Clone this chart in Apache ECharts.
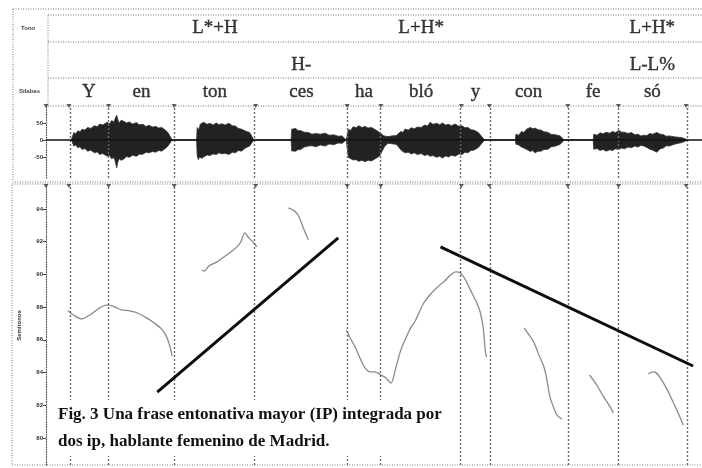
<!DOCTYPE html>
<html><head><meta charset="utf-8">
<script src="https://cdn.jsdelivr.net/npm/echarts@6/dist/echarts.min.js"></script>
<style>html,body{margin:0;padding:0;background:#fff}#c{width:702px;height:468px}</style>
</head><body><div id="c"></div>
<script>
// ---------- data (time in seconds) ----------
const boundaries = [0.077, 0.21, 0.43, 0.703, 1.01, 1.123, 1.393, 1.487, 1.75, 1.92, 2.147];
const syllables = ['Y', 'en', 'ton', 'ces', 'ha', 'bló', 'y', 'con', 'fe', 'só'];
const toneLabels = ['L*+H', 'L+H*', 'L+H*'];
const toneSyllable = [2, 5, 9];
const phraseLabels = ['H-', 'L-L%'];
const phraseSyllable = [3, 9];
const ampTicks = [50, 0, -50];
const semitoneTicks = [80, 82, 84, 86, 88, 90, 92, 94];

const waveUpper = [
  [0.085,0],[0.093,21.7],[0.1,18],[0.107,27],[0.114,24],[0.121,31.5],[0.13,29],[0.14,37],[0.15,34],[0.163,42],[0.172,39],[0.18,47],[0.19,44],[0.205,52],[0.213,47],[0.22,57],[0.228,53],[0.232,63],[0.237,73],[0.241,60],[0.245,50],[0.252,58],[0.261,55],[0.27,50],[0.28,53],[0.29,47],[0.303,51],[0.313,45],[0.325,46],[0.335,40],[0.346,43],[0.357,38],[0.368,40],[0.378,35],[0.388,37],[0.4,29],[0.409,22],[0.423,0],
  [0.505,0],[0.507,36.4],[0.512,30],[0.518,47],[0.524,43],[0.529,52],[0.54,46],[0.55,49],[0.56,44],[0.571,50],[0.58,45],[0.59,48],[0.6,44],[0.613,49],[0.625,42],[0.635,41],[0.645,34],[0.655,32],[0.67,26],[0.683,22],[0.697,0],
  [0.822,0],[0.824,31.5],[0.83,28],[0.838,34],[0.845,27],[0.852,28],[0.866,23],[0.88,22],[0.892,17],[0.905,19],[0.92,17],[0.936,20],[0.95,14],[0.965,15],[0.98,11],[0.993,12],[1.007,0],
  [1.012,0],[1.014,31.5],[1.022,28],[1.03,39],[1.04,36],[1.049,42],[1.06,37],[1.07,40],[1.08,35],[1.091,37],[1.105,30],[1.119,21.7],[1.133,12],[1.147,9.9],[1.16,12],[1.175,13],[1.19,25],[1.197,22],[1.204,32],[1.215,29],[1.225,36],[1.235,33],[1.246,38],[1.258,37],[1.27,44],[1.28,41],[1.288,52],[1.298,46],[1.31,49],[1.32,45],[1.33,50],[1.34,44],[1.35,46],[1.36,42],[1.372,47],[1.385,40],[1.395,42],[1.405,36],[1.415,37],[1.425,30],[1.435,29],[1.45,22],[1.471,0],
  [1.574,0],[1.576,16.7],[1.585,14],[1.595,25],[1.603,22],[1.612,32],[1.625,37],[1.632,33],[1.64,35],[1.65,30],[1.66,29],[1.67,24],[1.682,23],[1.695,16],[1.705,16],[1.724,12],[1.738,0],
  [1.835,0],[1.837,16.7],[1.848,14],[1.858,21],[1.868,18],[1.879,23],[1.89,20],[1.9,25],[1.91,22],[1.921,28],[1.93,23],[1.94,23],[1.952,19],[1.963,22],[1.975,15],[1.985,17],[1.995,12],[2.005,14],[2.015,13],[2.025,19],[2.035,17],[2.048,22],[2.06,17],[2.07,16],[2.08,11],[2.09,12],[2.11,9],[2.132,6.9],[2.153,0]
];
const waveLower = [
  [0.085,0],[0.093,-17.6],[0.1,-15],[0.107,-23],[0.114,-20],[0.121,-28],[0.13,-25],[0.14,-33],[0.15,-30],[0.163,-38],[0.172,-35],[0.18,-43],[0.19,-40],[0.205,-48],[0.213,-45],[0.22,-55],[0.228,-52],[0.232,-63],[0.237,-82],[0.241,-65],[0.245,-55],[0.252,-60],[0.261,-56],[0.27,-49],[0.28,-51],[0.29,-45],[0.303,-48],[0.313,-42],[0.325,-42],[0.335,-36],[0.346,-38],[0.357,-34],[0.368,-36],[0.378,-31],[0.388,-33],[0.4,-25],[0.409,-18],[0.423,0],
  [0.505,0],[0.507,-47],[0.511,-58],[0.515,-50],[0.522,-54],[0.529,-50],[0.54,-44],[0.55,-46],[0.56,-41],[0.571,-43],[0.58,-38],[0.59,-41],[0.6,-39],[0.613,-43],[0.625,-36],[0.635,-38],[0.645,-31],[0.655,-33],[0.67,-23],[0.683,-18],[0.697,0],
  [0.822,0],[0.824,-32.3],[0.83,-36],[0.838,-33],[0.845,-28],[0.852,-29],[0.866,-21],[0.88,-18],[0.892,-17],[0.905,-20],[0.92,-15],[0.936,-18],[0.95,-12],[0.965,-14],[0.98,-9],[0.993,-10],[1.007,0],
  [1.012,0],[1.014,-51.9],[1.022,-55],[1.03,-59],[1.04,-58],[1.049,-63],[1.06,-60],[1.07,-64],[1.08,-60],[1.091,-62],[1.105,-55],[1.119,-47],[1.135,-20],[1.147,-9.7],[1.16,-11],[1.175,-13],[1.19,-29],[1.197,-34],[1.204,-38],[1.215,-36],[1.225,-41],[1.235,-38],[1.246,-43],[1.258,-40],[1.27,-46],[1.28,-43],[1.288,-48],[1.298,-46],[1.31,-51],[1.32,-48],[1.33,-53],[1.34,-47],[1.35,-50],[1.36,-45],[1.372,-48],[1.385,-41],[1.395,-43],[1.405,-36],[1.415,-38],[1.425,-31],[1.435,-30],[1.45,-22],[1.471,0],
  [1.574,0],[1.576,-12.6],[1.585,-15],[1.595,-21],[1.603,-24],[1.612,-28],[1.625,-34],[1.632,-31],[1.64,-38],[1.65,-33],[1.66,-33],[1.67,-28],[1.682,-28],[1.695,-20],[1.705,-19],[1.724,-13],[1.738,0],
  [1.835,0],[1.837,-27.4],[1.848,-25],[1.858,-31],[1.868,-28],[1.879,-33],[1.89,-29],[1.9,-31],[1.91,-26],[1.921,-28],[1.93,-24],[1.94,-26],[1.952,-21],[1.963,-23],[1.975,-18],[1.985,-21],[1.995,-16],[2.005,-18],[2.015,-22],[2.025,-27],[2.035,-30],[2.048,-36],[2.06,-26],[2.07,-24],[2.08,-17],[2.09,-18],[2.11,-12],[2.132,-7.8],[2.153,0]
];

const f0Segments = [
  [[0.073,87.77],[0.097,87.46],[0.12,87.28],[0.147,87.52],[0.18,87.95],[0.207,88.13],[0.23,88.01],[0.253,87.83],[0.28,87.77],[0.307,87.64],[0.337,87.34],[0.363,87.03],[0.387,86.67],[0.403,86.24],[0.413,85.75],[0.42,85.26],[0.423,85.01]],
  [[0.523,90.27],[0.53,90.2],[0.547,90.52],[0.573,90.76],[0.597,91.07],[0.62,91.37],[0.64,91.68],[0.653,91.98],[0.667,92.53],[0.68,92.23],[0.697,91.92],[0.707,91.68]],
  [[0.813,94.06],[0.833,93.88],[0.847,93.57],[0.863,92.84],[0.88,92.11]],
  [[1.007,86.6],[1.02,86.11],[1.037,85.56],[1.053,84.89],[1.07,84.28],[1.087,84.04],[1.103,84.04],[1.123,83.85],[1.14,83.67],[1.157,83.36],[1.173,84.28],[1.19,85.38],[1.207,86.11],[1.223,86.73],[1.24,87.21],[1.263,88.13],[1.287,88.74],[1.313,89.23],[1.337,89.6],[1.357,89.97],[1.373,90.15],[1.39,90.09],[1.407,89.66],[1.423,89.05],[1.44,88.44],[1.457,87.64],[1.467,86.6],[1.473,85.38],[1.477,84.95]],
  [[1.603,86.73],[1.62,86.3],[1.637,85.81],[1.653,85.08],[1.67,84.34],[1.68,83.55],[1.69,82.51],[1.703,81.84],[1.713,81.41],[1.73,81.16]],
  [[1.823,83.85],[1.847,83.24],[1.87,82.51],[1.89,81.96],[1.903,81.53]],
  [[2.02,83.91],[2.033,84.04],[2.047,83.98],[2.06,83.67],[2.08,83.06],[2.103,82.2],[2.123,81.41],[2.137,80.8]]
];
const trendLines = [
  [[0.373,82.81],[0.98,92.23]],
  [[1.323,91.68],[2.17,84.4]]
];
const captionLines = ['Fig. 3 Una frase entonativa mayor (IP) integrada por', 'dos ip, hablante femenino de Madrid.'];

// ---------- layout ----------
const X_MAX = 2.2;
const TIER_Y = {tone: 19, phrase: 56, syll: 83};
const serif = '"Liberation Serif", "DejaVu Serif", serif';
const mids = syllables.map((s, i) => (boundaries[i] + boundaries[i + 1]) / 2);
const dotted = {stroke: '#777', lineWidth: 1, lineDash: [1, 1.5], fill: null};

function textSeries(items, y) {
  return {
    type: 'scatter', xAxisIndex: 0, yAxisIndex: 0, symbolSize: 1, silent: true,
    itemStyle: {color: 'rgba(0,0,0,0)'}, clip: false,
    label: {show: true, position: 'inside', formatter: p => p.data[2],
      fontFamily: serif, fontSize: 19, color: '#0a0a0a',
      textBorderColor: '#0a0a0a', textBorderWidth: 0.4},
    data: items.map(it => [it[0], y, it[1]])
  };
}

const chart = echarts.init(document.getElementById('c'));
const series = [];
series.push(textSeries(syllables.map((s, i) => [mids[i], s]), TIER_Y.syll));
series.push(textSeries(toneLabels.map((s, i) => [mids[toneSyllable[i]], s]), TIER_Y.tone));
series.push(textSeries(phraseLabels.map((s, i) => [mids[phraseSyllable[i]], s]), TIER_Y.phrase));

const boundaryMark = {
  silent: true, symbol: ['none', 'none'], label: {show: false},
  lineStyle: {type: [2, 2], color: '#6a6a6a', width: 1.4},
  data: boundaries.map(b => ({xAxis: b}))
};
series.push({
  type: 'line', xAxisIndex: 1, yAxisIndex: 1, data: waveUpper, symbol: 'none', silent: true,
  lineStyle: {width: 0.8, color: '#333'}, areaStyle: {color: '#222', opacity: 1},
  markLine: boundaryMark, z: 3
});
series.push({
  type: 'line', xAxisIndex: 1, yAxisIndex: 1, data: waveLower, symbol: 'none', silent: true,
  lineStyle: {width: 0.8, color: '#333'}, areaStyle: {color: '#222', opacity: 1},
  markLine: {silent: true, symbol: ['none', 'none'], label: {show: false},
    lineStyle: {type: 'solid', color: '#111', width: 1.6}, data: [{yAxis: 0}]}, z: 3
});
series.push({
  type: 'scatter', xAxisIndex: 1, yAxisIndex: 1, clip: false, silent: true,
  symbol: 'triangle', symbolRotate: 180, symbolSize: [5, 4], itemStyle: {color: '#333'},
  data: [0].concat(boundaries).map(b => [b, 100])
});
series.push({
  type: 'line', xAxisIndex: 2, yAxisIndex: 2, data: [], silent: true, markLine: boundaryMark
});
series.push({
  type: 'scatter', xAxisIndex: 2, yAxisIndex: 2, clip: false, silent: true,
  symbol: 'triangle', symbolRotate: 180, symbolSize: [5, 4], itemStyle: {color: '#333'},
  data: [0].concat(boundaries).map(b => [b, 95.4])
});
f0Segments.forEach(seg => series.push({
  type: 'line', xAxisIndex: 2, yAxisIndex: 2, data: seg, symbol: 'none', silent: true,
  smooth: 0.3, lineStyle: {width: 1.3, color: '#8a8a8a'}, z: 4
}));
trendLines.forEach(seg => series.push({
  type: 'line', xAxisIndex: 2, yAxisIndex: 2, data: seg, symbol: 'none', silent: true,
  lineStyle: {width: 3, color: '#0d0d0d'}, z: 5
}));

const tinyLabel = {fontSize: 6, color: '#333', fontWeight: 'bold', fontFamily: 'Liberation Sans', margin: 3};
const option = {
  animation: false,
  backgroundColor: '#fff',
  grid: [
    {left: 46, top: 9, width: 660, height: 97},
    {left: 46, top: 106, width: 660, height: 72},
    {left: 46, top: 186, width: 660, height: 279}
  ],
  xAxis: [0, 1, 2].map(i => ({type: 'value', gridIndex: i, min: 0, max: X_MAX, show: false})),
  yAxis: [
    {type: 'value', gridIndex: 0, min: 0, max: 97, inverse: true, show: false},
    {type: 'value', gridIndex: 1, min: -112, max: 100,
      axisLine: {show: true, lineStyle: {color: '#555', type: [1, 1.5], width: 1.2}},
      axisTick: {show: true, length: 3, customValues: ampTicks, lineStyle: {color: '#444'}},
      axisLabel: Object.assign({customValues: ampTicks}, tinyLabel),
      splitLine: {show: false}},
    {type: 'value', gridIndex: 2, min: 78.35, max: 95.4,
      name: 'Semitonos', nameLocation: 'middle', nameGap: 24, nameRotate: 90,
      nameTextStyle: {fontSize: 6, fontWeight: 'bold', color: '#333', fontFamily: 'Liberation Sans'},
      axisLine: {show: true, lineStyle: {color: '#555', type: [1, 1.5], width: 1.2}},
      axisTick: {show: true, length: 3, customValues: semitoneTicks, lineStyle: {color: '#444'}},
      axisLabel: Object.assign({customValues: semitoneTicks}, tinyLabel),
      splitLine: {show: false}}
  ],
  series: series,
  graphic: [
    {type: 'rect', shape: {x: 13, y: 9, width: 700, height: 173}, style: dotted, silent: true},
    {type: 'rect', shape: {x: 12, y: 184, width: 700, height: 281}, style: dotted, silent: true},
    {type: 'line', shape: {x1: 48, y1: 15, x2: 702, y2: 15}, style: dotted, silent: true},
    {type: 'line', shape: {x1: 48, y1: 15, x2: 48, y2: 106}, style: dotted, silent: true},
    {type: 'line', shape: {x1: 48, y1: 42, x2: 702, y2: 42}, style: dotted, silent: true},
    {type: 'line', shape: {x1: 48, y1: 78, x2: 702, y2: 78}, style: dotted, silent: true},
    {type: 'line', shape: {x1: 48, y1: 106, x2: 702, y2: 106}, style: dotted, silent: true},
    {type: 'text', x: 21, y: 25, silent: true,
      style: {text: 'Tono', fontSize: 6, fontWeight: 'bold', fill: '#444', fontFamily: 'Liberation Sans'}},
    {type: 'text', x: 19, y: 88, silent: true,
      style: {text: 'Sílabas', fontSize: 6, fontWeight: 'bold', fill: '#444', fontFamily: 'Liberation Sans'}},
    {type: 'text', x: 56, y: 400, z: 100, silent: true,
      style: {text: captionLines.join('\n'), fontSize: 17, fontWeight: 'bold', lineHeight: 27,
        fill: '#111', fontFamily: serif, backgroundColor: '#fff', padding: [1, 2, 1, 2]}}
  ]
};
chart.setOption(option);
</script></body></html>
